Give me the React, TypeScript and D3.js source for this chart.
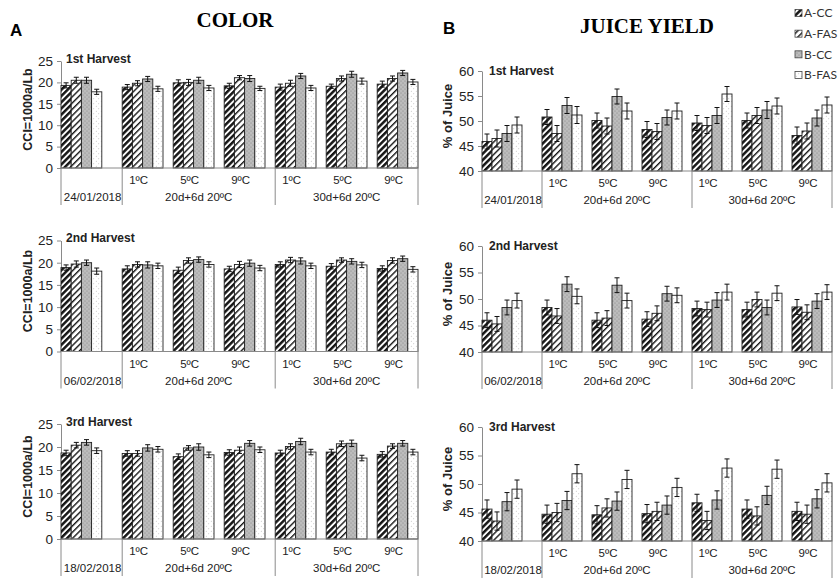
import { useEffect, useRef } from "react";
import * as d3 from "d3";

const series = ["A-CC", "A-FAS", "B-CC", "B-FAS"];
const harvests = ["1st Harvest", "2nd Harvest", "3rd Harvest"];
const harvestDates = ["24/01/2018", "06/02/2018", "18/02/2018"];
const temps = ["1ºC", "5ºC", "9ºC"];
const storages = ["20d+6d 20ºC", "30d+6d 20ºC"];
const colorTicks = [0, 5, 10, 15, 20, 25];
const juiceTicks = [40, 45, 50, 55, 60];

// rows = harvest date, 20d 1/5/9ºC, 30d 1/5/9ºC ; columns follow `series`
const colorH1 = [
  [19.3, 20.5, 20.5, 17.8],
  [18.9, 19.8, 20.8, 18.5],
  [19.9, 20.0, 20.5, 18.7],
  [19.2, 21.1, 20.9, 18.6],
  [18.9, 19.8, 21.5, 18.7],
  [19.1, 20.9, 21.9, 20.3],
  [19.6, 20.9, 22.2, 20.1],
];
const colorErrH1 = [
  [0.6, 0.7, 0.7, 0.6],
  [0.6, 0.6, 0.6, 0.6],
  [0.7, 0.7, 0.7, 0.6],
  [0.6, 0.5, 0.7, 0.5],
  [0.7, 0.7, 0.6, 0.6],
  [0.5, 0.6, 0.7, 0.7],
  [0.7, 0.6, 0.6, 0.6],
];
const colorH2 = [
  [18.9, 19.7, 20.0, 18.1],
  [18.6, 19.6, 19.5, 19.3],
  [18.3, 20.5, 20.7, 19.6],
  [18.6, 19.6, 19.9, 18.8],
  [19.6, 20.6, 20.4, 19.3],
  [19.2, 20.6, 20.3, 19.5],
  [18.7, 20.5, 20.9, 18.5],
];
const colorErrH2 = [
  [0.6, 0.7, 0.6, 0.7],
  [0.7, 0.6, 0.7, 0.6],
  [0.7, 0.6, 0.6, 0.6],
  [0.6, 0.7, 0.7, 0.6],
  [0.6, 0.6, 0.7, 0.6],
  [0.6, 0.5, 0.6, 0.6],
  [0.6, 0.6, 0.6, 0.6],
];
const colorH3 = [
  [18.7, 20.4, 21.0, 19.2],
  [18.6, 18.6, 19.8, 19.5],
  [17.9, 19.8, 20.0, 18.3],
  [18.8, 19.3, 20.8, 19.4],
  [18.7, 20.1, 21.2, 18.9],
  [18.9, 20.7, 20.8, 17.6],
  [18.4, 20.2, 20.8, 18.9],
];
const colorErrH3 = [
  [0.6, 0.6, 0.6, 0.6],
  [0.6, 0.6, 0.7, 0.6],
  [0.6, 0.5, 0.7, 0.6],
  [0.6, 0.7, 0.6, 0.6],
  [0.6, 0.6, 0.7, 0.6],
  [0.6, 0.6, 0.7, 0.6],
  [0.6, 0.5, 0.6, 0.6],
];

const juiceH1 = [
  [45.9, 46.5, 47.5, 49.2],
  [50.8, 47.5, 53.1, 51.2],
  [50.1, 49.0, 54.9, 52.0],
  [48.3, 47.9, 50.7, 52.0],
  [49.6, 49.1, 51.1, 55.4],
  [50.1, 51.1, 52.2, 53.0],
  [47.1, 48.0, 50.6, 53.2],
];
const juiceErrH1 = [
  [1.5, 1.7, 1.6, 1.6],
  [1.5, 1.6, 1.6, 1.7],
  [1.5, 1.6, 1.5, 1.6],
  [1.6, 1.6, 1.5, 1.6],
  [1.5, 1.6, 1.6, 1.5],
  [1.5, 1.6, 1.7, 1.6],
  [1.7, 1.6, 1.6, 1.6],
];
const juiceH2 = [
  [46.0, 45.3, 48.4, 49.7],
  [48.4, 46.8, 52.8, 50.5],
  [46.0, 46.4, 52.6, 49.7],
  [46.2, 47.3, 51.0, 50.7],
  [48.2, 48.0, 49.8, 51.3],
  [48.0, 49.9, 48.4, 51.1],
  [48.5, 47.5, 49.6, 51.3],
];
const juiceErrH2 = [
  [1.4, 1.4, 1.4, 1.4],
  [1.4, 1.4, 1.4, 1.4],
  [1.4, 1.4, 1.4, 1.4],
  [1.4, 1.4, 1.4, 1.4],
  [1.4, 1.4, 1.4, 1.5],
  [1.4, 1.4, 1.4, 1.4],
  [1.4, 1.4, 1.4, 1.4],
];
const juiceH3 = [
  [45.6, 43.5, 46.9, 49.1],
  [44.7, 45.0, 47.1, 51.8],
  [44.6, 45.8, 47.0, 50.8],
  [44.8, 45.2, 46.3, 49.4],
  [46.7, 43.6, 47.2, 52.8],
  [45.6, 44.4, 48.0, 52.6],
  [45.2, 44.7, 47.4, 50.2],
];
const juiceErrH3 = [
  [1.6, 1.6, 1.6, 1.6],
  [1.6, 1.6, 1.6, 1.6],
  [1.6, 1.6, 1.6, 1.6],
  [1.6, 1.6, 1.6, 1.6],
  [1.5, 1.6, 1.6, 1.6],
  [1.6, 1.6, 1.6, 1.6],
  [1.6, 1.6, 1.6, 1.6],
];

const SANS = "'Liberation Sans', Arial, sans-serif";
const SERIF = "'Liberation Serif', 'Times New Roman', serif";
const patternIds = ["p-acc", "p-afas", "p-bcc", "p-bfas"];

interface PanelCfg {
  values: number[][];
  errors: number[][];
  ticks: number[];
  harvest: number;
  left: number;
  right: number;
  top: number;
  bottom: number;
  labelX: number;
  yLabel: string;
  yLabelSize: number;
  harvestDx: number;
  harvestDy: number;
}

export default function App() {
  const ref = useRef<SVGSVGElement>(null);

  useEffect(() => {
    if (!ref.current) return;
    const svg = d3.select(ref.current);
    svg.selectAll("*").remove();

    // patterns
    const defs = svg.append("defs");
    const stripes = (id: string, w: number) => {
      const p = defs
        .append("pattern")
        .attr("id", id)
        .attr("patternUnits", "userSpaceOnUse")
        .attr("width", 4.4)
        .attr("height", 4.4)
        .attr("patternTransform", "rotate(45)");
      p.append("rect").attr("width", 4.4).attr("height", 4.4).attr("fill", "#fff");
      p.append("rect").attr("width", w).attr("height", 4.4).attr("fill", "#161616");
    };
    stripes("p-acc", 2.5);
    stripes("p-afas", 1.4);
    const dots = (id: string, bg: string, dot: string, s: number, r: number) => {
      const p = defs
        .append("pattern")
        .attr("id", id)
        .attr("patternUnits", "userSpaceOnUse")
        .attr("width", s)
        .attr("height", s);
      p.append("rect").attr("width", s).attr("height", s).attr("fill", bg);
      p.append("circle").attr("cx", s / 4).attr("cy", s / 4).attr("r", r).attr("fill", dot);
      p.append("circle").attr("cx", (3 * s) / 4).attr("cy", (3 * s) / 4).attr("r", r).attr("fill", dot);
    };
    dots("p-bcc", "#bcbcbc", "#7a7a7a", 4, 0.5);
    dots("p-bfas", "#ffffff", "#9a9a9a", 5, 0.45);

    const slot = (gi: number) => (gi === 0 ? 0 : gi * 5 + 1);

    const drawPanel = (cfg: PanelCfg) => {
      const g = svg.append("g");
      const x = d3.scaleLinear().domain([0, 35]).range([cfg.left, cfg.right]);
      const y = d3
        .scaleLinear()
        .domain([cfg.ticks[0], cfg.ticks[cfg.ticks.length - 1]])
        .range([cfg.bottom, cfg.top]);
      const bw = x(1) - x(0);
      const base = cfg.ticks[0];

      // y axis
      const ax = g
        .append("g")
        .attr("transform", `translate(${cfg.left},0)`)
        .call(d3.axisLeft(y).tickValues(cfg.ticks).tickSize(4).tickSizeOuter(0).tickPadding(4));
      ax.select(".domain").attr("stroke", "#8a8a8a");
      ax.selectAll(".tick line").attr("stroke", "#8a8a8a");
      ax.selectAll(".tick text")
        .attr("font-family", SANS)
        .attr("font-size", 13.5)
        .attr("fill", "#222");

      // bars
      cfg.values.forEach((row, gi) => {
        row.forEach((v, si) => {
          const bx = x(slot(gi) + si);
          g.append("rect")
            .attr("x", bx)
            .attr("y", y(v))
            .attr("width", bw)
            .attr("height", y(base) - y(v))
            .attr("fill", `url(#${patternIds[si]})`)
            .attr("stroke", "#222")
            .attr("stroke-width", 0.9);
          const e = cfg.errors[gi][si];
          const cx = bx + bw / 2;
          const eb = g.append("g").attr("stroke", "#111").attr("stroke-width", 1);
          eb.append("line").attr("x1", cx).attr("x2", cx).attr("y1", y(v - e)).attr("y2", y(v + e));
          eb.append("line").attr("x1", cx - 2.5).attr("x2", cx + 2.5).attr("y1", y(v + e)).attr("y2", y(v + e));
          eb.append("line").attr("x1", cx - 2.5).attr("x2", cx + 2.5).attr("y1", y(v - e)).attr("y2", y(v - e));
        });
      });

      // x axis + multi-level category separators
      g.append("line")
        .attr("x1", x(0))
        .attr("x2", x(35))
        .attr("y1", y(base))
        .attr("y2", y(base))
        .attr("stroke", "#8a8a8a");
      [0, 6, 21, 35].forEach((s) => {
        g.append("line")
          .attr("x1", x(s))
          .attr("x2", x(s))
          .attr("y1", y(base))
          .attr("y2", y(base) + 37)
          .attr("stroke", "#8a8a8a");
      });

      const txt = (t: string, tx: number, ty: number) =>
        g
          .append("text")
          .attr("x", tx)
          .attr("y", ty)
          .attr("dy", "0.35em")
          .attr("text-anchor", "middle")
          .attr("font-family", SANS)
          .attr("font-size", 11.5)
          .attr("fill", "#222")
          .text(t);

      for (let gi = 1; gi < 7; gi++) {
        txt(temps[(gi - 1) % 3], x(slot(gi) + 2) - 4, y(base) + 12);
      }
      txt(harvestDates[cfg.harvest], (x(0) + x(6)) / 2 + 1, y(base) + 29);
      txt(storages[0], (x(6) + x(21)) / 2, y(base) + 29);
      txt(storages[1], (x(21) + x(35)) / 2, y(base) + 29);

      g.append("text")
        .attr("x", cfg.left + cfg.harvestDx)
        .attr("y", cfg.top + cfg.harvestDy)
        .attr("font-family", SANS)
        .attr("font-size", 12)
        .attr("font-weight", "bold")
        .attr("fill", "#222")
        .text(harvests[cfg.harvest]);

      g.append("text")
        .attr("transform", `translate(${cfg.labelX},${(cfg.top + cfg.bottom) / 2 - 5}) rotate(-90)`)
        .attr("text-anchor", "middle")
        .attr("dy", "0.35em")
        .attr("font-family", SANS)
        .attr("font-size", cfg.yLabelSize)
        .attr("font-weight", "bold")
        .attr("fill", "#222")
        .text(cfg.yLabel);
    };

    const colorData = [colorH1, colorH2, colorH3];
    const colorErr = [colorErrH1, colorErrH2, colorErrH3];
    const juiceData = [juiceH1, juiceH2, juiceH3];
    const juiceErr = [juiceErrH1, juiceErrH2, juiceErrH3];
    const aTop = [61, 240.5, 424];
    const aBottom = [168, 351.5, 539];
    const bTop = [71, 246, 427];
    const bBottom = [171, 352, 541];

    for (let h = 0; h < 3; h++) {
      drawPanel({
        values: colorData[h],
        errors: colorErr[h],
        ticks: colorTicks,
        harvest: h,
        left: 61,
        right: 418,
        top: aTop[h],
        bottom: aBottom[h],
        labelX: 28,
        yLabel: "CCI=1000a/Lb",
        yLabelSize: 12.5,
        harvestDx: 5,
        harvestDy: 1.5,
      });
      drawPanel({
        values: juiceData[h],
        errors: juiceErr[h],
        ticks: juiceTicks,
        harvest: h,
        left: 482,
        right: 832,
        top: bTop[h],
        bottom: bBottom[h],
        labelX: 447,
        yLabel: "% of Juice",
        yLabelSize: 13,
        harvestDx: 7,
        harvestDy: 4,
      });
    }

    // titles
    svg.append("text")
      .attr("x", 235)
      .attr("y", 27)
      .attr("text-anchor", "middle")
      .attr("font-family", SERIF)
      .attr("font-size", 21)
      .attr("font-weight", "bold")
      .text("COLOR");
    svg.append("text")
      .attr("x", 647)
      .attr("y", 33)
      .attr("text-anchor", "middle")
      .attr("font-family", SERIF)
      .attr("font-size", 21)
      .attr("font-weight", "bold")
      .text("JUICE YIELD");
    svg.append("text")
      .attr("x", 10)
      .attr("y", 36)
      .attr("font-family", SANS)
      .attr("font-size", 17)
      .attr("font-weight", "bold")
      .text("A");
    svg.append("text")
      .attr("x", 443)
      .attr("y", 34)
      .attr("font-family", SANS)
      .attr("font-size", 17)
      .attr("font-weight", "bold")
      .text("B");

    // legend
    const legendY = d3.scalePoint<string>().domain(series).range([13, 75]);
    series.forEach((s, i) => {
      const ly = legendY(s) as number;
      svg.append("rect")
        .attr("x", 795)
        .attr("y", ly - 3.5)
        .attr("width", 7)
        .attr("height", 7)
        .attr("fill", `url(#${patternIds[i]})`)
        .attr("stroke", "#444")
        .attr("stroke-width", 0.8);
      svg.append("text")
        .attr("x", 804)
        .attr("y", ly)
        .attr("dy", "0.35em")
        .attr("font-family", "Lato, 'Open Sans', sans-serif")
        .attr("font-size", 12)
        .attr("fill", "#333")
        .text(s);
    });
  }, []);

  return (
    <svg
      ref={ref}
      width={839}
      height={580}
      style={{ position: "absolute", left: 0, top: 0, background: "#fff" }}
    />
  );
}
